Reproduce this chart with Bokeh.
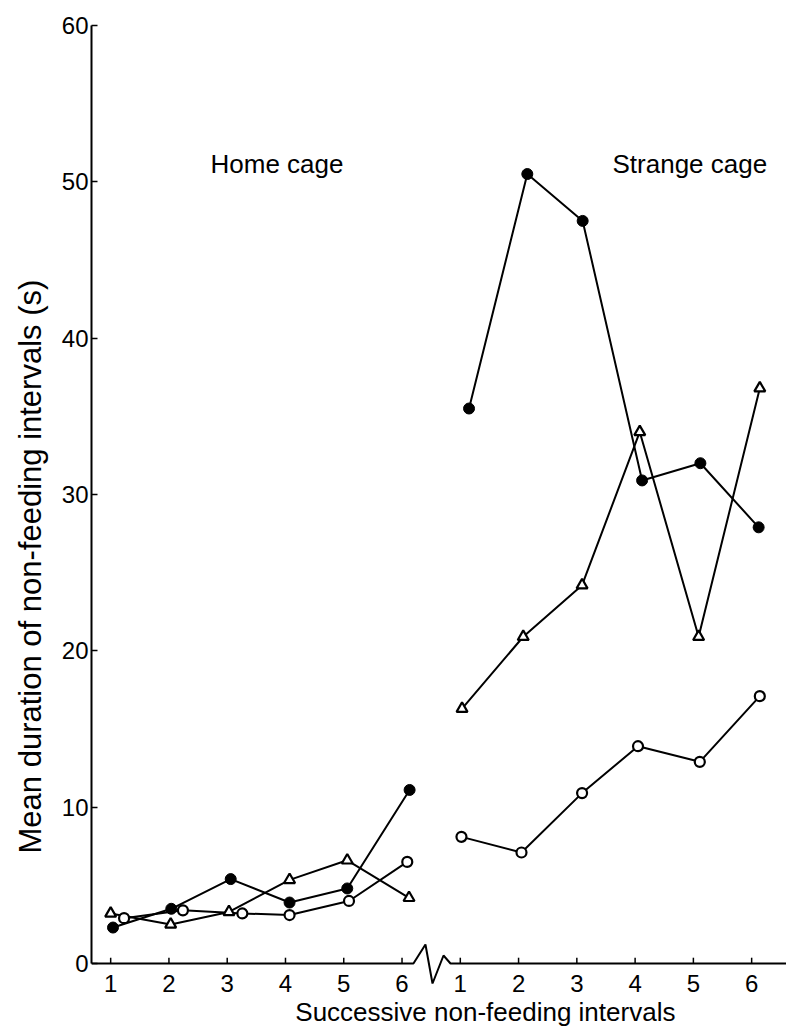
from bokeh.plotting import figure
from bokeh.models import Range1d, FixedTicker, Label, Title
from bokeh.embed import file_html
from bokeh.resources import INLINE

# ---- data ----
# x = position along the axis (home cage 1-6 -> 1..6, strange cage 1-6 -> 7..12)
home_x_filled = [1.04, 2.04, 3.06, 4.07, 5.06, 6.13]
home_filled = [2.3, 3.5, 5.4, 3.9, 4.8, 11.1]
home_x_tri = [1.00, 2.03, 3.03, 4.07, 5.06, 6.12]
home_tri = [3.2, 2.5, 3.3, 5.35, 6.6, 4.2]
home_x_open = [1.23, 2.24, 3.26, 4.07, 5.09, 6.09]
home_open = [2.9, 3.4, 3.2, 3.1, 4.0, 6.5]

strange_x_filled = [7.15, 8.15, 9.10, 10.12, 11.12, 12.12]
strange_filled = [35.5, 50.5, 47.5, 30.9, 32.0, 27.9]
strange_x_tri = [7.03, 8.08, 9.09, 10.08, 11.09, 12.14]
strange_tri = [16.3, 20.9, 24.2, 34.0, 20.9, 36.8]
strange_x_open = [7.02, 8.05, 9.09, 10.05, 11.11, 12.14]
strange_open = [8.1, 7.1, 10.9, 13.9, 12.9, 17.1]

x_ticks = [1, 2, 3, 4, 5, 6, 7, 8, 9, 10, 11, 12]
x_tick_labels = ["1", "2", "3", "4", "5", "6", "1", "2", "3", "4", "5", "6"]
y_ticks = [0, 10, 20, 30, 40, 50, 60]

# axis break squiggle between the two cages
break_x = [6.196, 6.402, 6.523, 6.712, 6.832]
break_y = [0, 1.215, -1.279, 0.512, 0]

x_lo, x_hi = 0.671, 12.598
y_lo, y_hi = -4.222, 60

FONT = "Liberation Sans"

p = figure(frame_width=695, frame_height=1004, output_backend="svg", toolbar_location=None,
           x_range=Range1d(x_lo, x_hi), y_range=Range1d(y_lo, y_hi),
           min_border_left=91, min_border_right=0, min_border_top=25, min_border_bottom=0)
p.outline_line_color = None
p.grid.visible = False
p.background_fill_color = "white"
p.border_fill_color = "white"
p.xaxis.visible = False

# y axis
p.yaxis.ticker = FixedTicker(ticks=y_ticks)
p.yaxis.bounds = (0, 60)
p.yaxis.axis_line_width = 2
p.yaxis.axis_line_color = "black"
p.yaxis.major_label_standoff = 3
p.yaxis.major_tick_in = 6
p.yaxis.major_tick_out = 0
p.yaxis.minor_tick_line_color = None
p.yaxis.major_tick_line_width = 1.5
p.yaxis.major_tick_line_color = "black"
p.yaxis.major_label_text_font = FONT
p.yaxis.major_label_text_color = "black"
p.yaxis.major_label_text_font_size = "24px"

# x-axis line at y = 0 with the break squiggle, its ticks and tick labels
p.line([x_lo] + break_x + [x_hi], [0] + break_y + [0], line_color="black", line_width=2)
p.segment(x0=x_ticks, y0=[0] * len(x_ticks), x1=x_ticks, y1=[0.37] * len(x_ticks),
          line_color="black", line_width=1.5)
p.text(x=x_ticks, y=[-1.31] * len(x_ticks), text=x_tick_labels, text_font={"value": FONT},
       text_font_size="24px", text_color="black", text_align="center", text_baseline="middle")

LW = 2
series = [
    (home_x_filled, home_filled, "filled"),
    (home_x_tri, home_tri, "tri"),
    (home_x_open, home_open, "open"),
    (strange_x_filled, strange_filled, "filled"),
    (strange_x_tri, strange_tri, "tri"),
    (strange_x_open, strange_open, "open"),
]
for xs, ys, kind in series:
    p.line(xs, ys, line_color="black", line_width=LW)
for xs, ys, kind in series:
    if kind == "filled":
        p.scatter(xs, ys, marker="circle", size=11, fill_color="black", line_color="black")
    elif kind == "open":
        p.scatter(xs, ys, marker="circle", size=10, fill_color="white", line_color="black", line_width=2.2)
    else:
        p.scatter(xs, ys, marker="triangle", size=11, fill_color="white", line_color="black", line_width=2.2)

# texts
p.add_layout(Label(x=2.713, y=51.17, text="Home cage", text_font=FONT, text_font_size="26px",
                   text_color="black", text_baseline="middle", text_align="left"))
p.add_layout(Label(x=9.612, y=51.17, text="Strange cage", text_font=FONT, text_font_size="26px",
                   text_color="black", text_baseline="middle", text_align="left"))
p.add_layout(Label(x=7.43, y=-3.134, text="Successive non-feeding intervals", text_font=FONT,
                   text_font_size="26px", text_color="black", text_baseline="middle",
                   text_align="center"))
p.add_layout(Title(text="Mean duration of non-feeding intervals (s)", text_font=FONT,
                   text_font_size="31px", text_font_style="normal", text_color="black",
                   align="left", offset=176, vertical_align="top", standoff=18), "left")

open("out.html", "w").write(file_html(p, INLINE))
